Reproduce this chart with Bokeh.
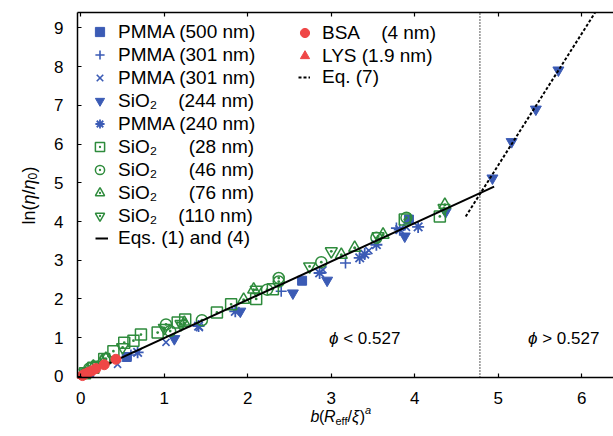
import math
from bokeh.plotting import figure
from bokeh.models import Range1d, LinearAxis, FixedTicker, Legend, LegendItem, Label
from bokeh.embed import file_html
from bokeh.resources import INLINE

# ---------------- data ----------------
x_ticks = [0, 1, 2, 3, 4, 5, 6]
y_ticks = [0, 1, 2, 3, 4, 5, 6, 7, 8, 9]
x_axis_span = (-0.04, 6.38)
y_axis_span = (-0.03, 9.40)

pmma500_x = [0.10, 0.55, 2.65, 3.93]
pmma500_y = [0.10, 0.50, 2.47, 4.05]

pmma301p_x = [0.08, 0.60, 2.40, 3.17, 3.78]
pmma301p_y = [0.10, 0.55, 2.20, 2.93, 3.83]

pmma301x_x = [0.44, 1.02, 1.42, 2.90, 3.45, 3.90]
pmma301x_y = [0.31, 0.88, 1.26, 2.75, 3.25, 3.85]

sio244_x = [1.12, 1.91, 2.54, 2.95, 3.88, 4.37, 4.93, 5.16, 5.45, 5.72]
sio244_y = [0.97, 1.68, 2.15, 2.48, 3.62, 4.25, 5.12, 6.06, 6.90, 7.91]

pmma240_x = [0.68, 1.41, 1.85, 2.86, 3.34, 3.40, 3.54, 3.82, 4.04]
pmma240_y = [0.62, 1.30, 1.68, 2.67, 3.06, 3.16, 3.40, 3.79, 3.86]

sio28_x = [0.05, 0.15, 0.28, 0.39, 0.52, 0.63, 0.72, 0.92, 1.16, 1.25, 1.63, 1.80, 2.10, 2.30, 3.88, 4.30]
sio28_y = [0.08, 0.22, 0.45, 0.65, 0.87, 0.92, 1.08, 1.13, 1.39, 1.47, 1.65, 1.86, 2.00, 2.25, 4.05, 4.13]

sio46_x = [0.10, 0.30, 1.02, 1.07, 1.45, 2.23, 2.37, 2.37, 2.88, 3.54, 3.90]
sio46_y = [0.20, 0.45, 1.34, 1.17, 1.45, 2.24, 2.54, 2.45, 2.95, 3.58, 4.10]

sio76_x = [0.03, 0.08, 0.15, 0.25, 0.30, 1.24, 1.95, 2.07, 3.12, 3.28, 3.62, 4.36]
sio76_y = [0.05, 0.15, 0.25, 0.38, 0.45, 1.38, 1.98, 2.24, 3.14, 3.32, 3.66, 4.43]

sio110_x = [0.05, 0.20, 0.50, 1.00, 1.20, 2.10, 2.74, 3.00, 3.56, 4.35]
sio110_y = [0.10, 0.30, 0.75, 1.25, 1.35, 2.24, 2.84, 3.23, 3.62, 4.35]

bsa_x = [0.02, 0.05, 0.09, 0.13, 0.18, 0.28, 0.42]
bsa_y = [0.02, 0.06, 0.10, 0.14, 0.20, 0.30, 0.44]

lys_x = [0.01, 0.03, 0.06]
lys_y = [0.02, 0.04, 0.08]

eq14_x = [0.0, 4.95]
eq14_y = [0.0, 4.90]

eq7_x = [4.61, 6.16]
eq7_y = [4.13, 9.40]

phi_c = 0.527
phi_c_x = 4.78

legend1_labels = [
    "PMMA (500 nm)",
    "PMMA (301 nm)",
    "PMMA (301 nm)",
    "SiO\u2082\u00a0\u00a0\u00a0\u00a0(244 nm)",
    "PMMA (240 nm)",
    "SiO\u2082\u00a0\u00a0\u00a0\u00a0\u00a0\u00a0(28 nm)",
    "SiO\u2082\u00a0\u00a0\u00a0\u00a0\u00a0\u00a0(46 nm)",
    "SiO\u2082\u00a0\u00a0\u00a0\u00a0\u00a0\u00a0(76 nm)",
    "SiO\u2082\u00a0\u00a0\u00a0\u00a0(110 nm)",
]
legend1_line_label = "Eqs. (1) and (4)"
legend2_labels = [
    "BSA\u00a0\u00a0\u00a0\u00a0(4 nm)",
    "LYS (1.9 nm)",
]
legend2_line_label = "Eq. (7)"

# ---------------- geometry / styles ----------------
W, H = 613, 436
FRAME_L, FRAME_T, FRAME_B = 77, 12, 377    # canvas pixels of the axes box
BLUE = "#3b5bb5"
GREEN = "#2e8b3c"
RED = "#ef4646"
FONT = "Liberation Sans"

ux = (W - FRAME_L) / (x_axis_span[1] - x_axis_span[0])
uy = (FRAME_B - FRAME_T) / (y_axis_span[1] - y_axis_span[0])
X0 = x_axis_span[0] - FRAME_L / ux
X1 = x_axis_span[1]
Y0 = y_axis_span[0] - (H - FRAME_B) / uy
Y1 = y_axis_span[1] + FRAME_T / uy

def cx(px):
    return X0 + px / ux

def cy(py):
    return Y1 - py / uy

p = figure(width=W, height=H,
           x_range=Range1d(X0, X1), y_range=Range1d(Y0, Y1),
           output_backend="svg", toolbar_location=None, min_border=0)
p.xgrid.visible = False
p.ygrid.visible = False
p.outline_line_color = None
p.background_fill_color = "white"

def style_axis(ax, ticks, bounds, loc):
    ax.ticker = FixedTicker(ticks=ticks)
    ax.bounds = bounds
    ax.fixed_location = loc
    ax.major_tick_in = 4
    ax.major_tick_out = 0
    ax.minor_tick_line_color = None
    ax.axis_line_width = 1.5
    ax.axis_line_color = "black"
    ax.major_tick_line_color = "black"
    ax.major_tick_line_width = 1.2
    ax.major_label_text_font = FONT
    ax.major_label_text_color = "black"
    ax.major_label_text_font_size = "17px"
    ax.major_label_standoff = 14

style_axis(p.xaxis[0], x_ticks, x_axis_span, y_axis_span[0])
style_axis(p.yaxis[0], y_ticks, y_axis_span, x_axis_span[0])

# top mirror axis: ticks only (drawn as minor ticks, so no labels)
top = LinearAxis(ticker=FixedTicker(ticks=[], minor_ticks=x_ticks))
top.bounds = x_axis_span
top.fixed_location = y_axis_span[1]
top.axis_line_width = 1.5
top.axis_line_color = "black"
top.minor_tick_in = 4
top.minor_tick_out = 0
top.minor_tick_line_color = "black"
top.minor_tick_line_width = 1.2
top.major_tick_line_color = None
p.add_layout(top, "above")

# ---------------- marks ----------------
p.line([phi_c_x, phi_c_x], list(y_axis_span), line_color="black", line_width=1.3, line_dash="1 2")

r_pmma500 = p.scatter(pmma500_x, pmma500_y, marker="square", size=9, color=BLUE)
r_pmma301p = p.scatter(pmma301p_x, pmma301p_y, marker="cross", size=11, line_color=BLUE, line_width=1.6)
r_pmma301x = p.scatter(pmma301x_x, pmma301x_y, marker="x", size=10, line_color=BLUE, line_width=1.6)
r_sio244 = p.scatter(sio244_x, sio244_y, marker="inverted_triangle", size=11, color=BLUE)
r_pmma240 = p.scatter(pmma240_x, pmma240_y, marker="asterisk", size=12, line_color=BLUE, line_width=1.8)

r_sio28 = p.scatter(sio28_x, sio28_y, marker="square_dot", size=11, fill_color=None, line_color=GREEN, line_width=1.5)
r_sio46 = p.scatter(sio46_x, sio46_y, marker="circle_dot", size=11, fill_color=None, line_color=GREEN, line_width=1.5)
r_sio76 = p.scatter(sio76_x, sio76_y, marker="triangle_dot", size=12, fill_color=None, line_color=GREEN, line_width=1.5)
r_sio110 = p.scatter(sio110_x, sio110_y, marker="inverted_triangle", size=12, fill_color=None, line_color=GREEN, line_width=1.5)
r_sio110d = p.scatter(sio110_x, sio110_y, marker="dot", size=11, color=GREEN)

r_eq14 = p.line(eq14_x, eq14_y, line_color="black", line_width=2)
r_eq7 = p.line(eq7_x, eq7_y, line_color="black", line_width=2, line_dash="3 2")

r_bsa = p.scatter(bsa_x, bsa_y, marker="circle", size=10, color=RED)
r_lys = p.scatter(lys_x, lys_y, marker="triangle", size=9, color=RED)

# ---------------- legends ----------------
def make_legend(labels, renderers, loc, gw, gh, standoff):
    items = [LegendItem(label=l, renderers=r) for l, r in zip(labels, renderers)]
    return Legend(items=items, location=loc, orientation="vertical",
                  glyph_width=gw, glyph_height=gh, label_height=20, spacing=0,
                  padding=0, margin=0, label_standoff=standoff,
                  border_line_color=None, background_fill_alpha=0,
                  label_text_font=FONT, label_text_font_size="19px",
                  label_text_color="black")

leg1 = make_legend(legend1_labels,
                   [[r_pmma500], [r_pmma301p], [r_pmma301x], [r_sio244], [r_pmma240],
                    [r_sio28], [r_sio46], [r_sio76], [r_sio110, r_sio110d]],
                   (88, 209), 23, 23, 7)
leg1b = make_legend([legend1_line_label], [[r_eq14]], (95, 187), 13, 20, 10)
leg2 = make_legend(legend2_labels, [[r_bsa], [r_lys]], (293, 369), 23, 23, 6)
leg2b = make_legend([legend2_line_label], [[r_eq7]], (298, 348), 12, 20, 12)
for lg in (leg1, leg1b, leg2, leg2b):
    p.add_layout(lg)

# ---------------- text annotations ----------------
def piece(text, px, py, dx=0, dy=0, size="17px", style="normal", angle=0.0,
          align="left", baseline="alphabetic"):
    lab = Label(x=cx(px), y=cy(py), x_offset=dx, y_offset=dy, text=text, angle=angle,
                text_font=FONT, text_font_size=size, text_font_style=style,
                text_color="black", text_align=align, text_baseline=baseline)
    p.add_layout(lab)

# x-axis label: b(R_eff/xi)^a
xl_px, xl_py = 310, 416
piece("b", xl_px, xl_py, 0, 0, "16px", "italic")
piece("(", xl_px, xl_py, 8.5, 0, "16px")
piece("R", xl_px, xl_py, 13.6, 0, "16px", "italic")
piece("eff", xl_px, xl_py, 25.0, -4, "11px")
piece("/", xl_px, xl_py, 37.0, 0, "16px")
piece("\u03be", xl_px, xl_py, 41.5, 0, "16px", "italic")
piece(")", xl_px, xl_py, 49.3, 0, "16px")
piece("a", xl_px, xl_py, 54.5, 7, "11px", "italic")

# y-axis label: ln(eta/eta_0), rotated
yl_px, yl_py = 28, 224
ang = math.pi / 2
piece("ln(", yl_px, yl_py, 0, 0, "18px", angle=ang)
piece("\u03b7", yl_px, yl_py, 0, 20, "18px", "italic", angle=ang)
piece("/", yl_px, yl_py, 0, 30, "18px", angle=ang)
piece("\u03b7", yl_px, yl_py, 0, 35, "18px", "italic", angle=ang)
piece("0", yl_px, yl_py, 4, 45, "12px", angle=ang)
piece(")", yl_px, yl_py, 0, 52, "18px", angle=ang)

# phi regions
piece("\u03d5", 338, 338, 0, 0, "17px", "italic", align="right", baseline="middle")
piece("\u00a0< %.3f" % phi_c, 338, 338, 0, 0, "17px", align="left", baseline="middle")
piece("\u03d5", 537, 338, 0, 0, "17px", "italic", align="right", baseline="middle")
piece("\u00a0> %.3f" % phi_c, 537, 338, 0, 0, "17px", align="left", baseline="middle")

open("out.html", "w").write(file_html(p, INLINE))
